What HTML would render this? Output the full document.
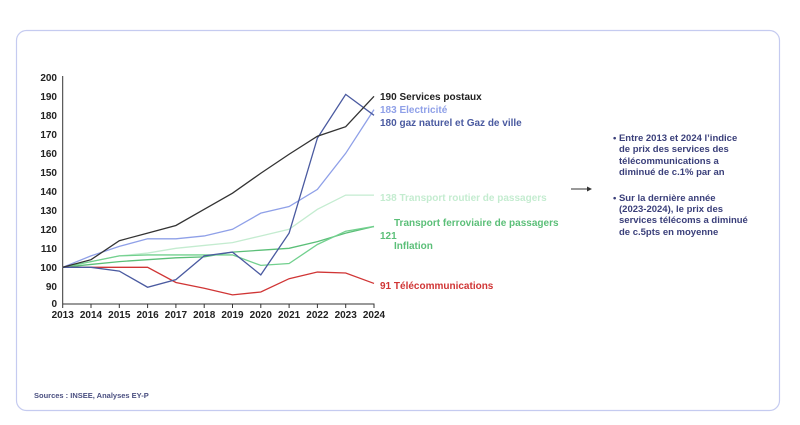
<!DOCTYPE html>
<html><head><meta charset="utf-8"><style>
body{margin:0;background:#fff;width:800px;height:420px;overflow:hidden;font-family:"Liberation Sans",sans-serif}
</style></head><body>
<svg width="800" height="420" xmlns="http://www.w3.org/2000/svg" font-family="Liberation Sans, sans-serif">
<rect x="16.5" y="30.5" width="763" height="380" rx="10" fill="#fff" stroke="#c5cbf0" stroke-width="1.2"/>
<g font-size="10" font-weight="bold" fill="#222" text-anchor="end">
<text x="57" y="81">200</text><text x="57" y="100">190</text><text x="57" y="119">180</text><text x="57" y="138">170</text><text x="57" y="157">160</text><text x="57" y="176">150</text><text x="57" y="195">140</text><text x="57" y="214">130</text><text x="57" y="233">120</text><text x="57" y="252">110</text><text x="57" y="271">100</text><text x="57" y="290">90</text><text x="57" y="307">0</text>
</g>
<line x1="62.7" y1="76" x2="62.7" y2="304" stroke="#333" stroke-width="1"/>
<line x1="62.7" y1="304" x2="374.5" y2="304" stroke="#333" stroke-width="1"/>
<g stroke="#333" stroke-width="1">
<line x1="62.7" y1="304" x2="62.7" y2="308"/><line x1="91" y1="304" x2="91" y2="308"/><line x1="119.3" y1="304" x2="119.3" y2="308"/><line x1="147.6" y1="304" x2="147.6" y2="308"/><line x1="175.9" y1="304" x2="175.9" y2="308"/><line x1="204.2" y1="304" x2="204.2" y2="308"/><line x1="232.5" y1="304" x2="232.5" y2="308"/><line x1="260.8" y1="304" x2="260.8" y2="308"/><line x1="289.1" y1="304" x2="289.1" y2="308"/><line x1="317.4" y1="304" x2="317.4" y2="308"/><line x1="345.7" y1="304" x2="345.7" y2="308"/><line x1="374" y1="304" x2="374" y2="308"/>
</g>
<g font-size="10" font-weight="bold" fill="#222" text-anchor="middle">
<text x="62.7" y="318">2013</text><text x="91" y="318">2014</text><text x="119.3" y="318">2015</text><text x="147.6" y="318">2016</text><text x="175.9" y="318">2017</text><text x="204.2" y="318">2018</text><text x="232.5" y="318">2019</text><text x="260.8" y="318">2020</text><text x="289.1" y="318">2021</text><text x="317.4" y="318">2022</text><text x="345.7" y="318">2023</text><text x="374" y="318">2024</text>
</g>
<g transform="translate(62.7,267.3) scale(28.3,-1.9)" fill="none" stroke-width="1.3">
<polyline vector-effect="non-scaling-stroke" stroke="#c4ecd0" points="0,0 1,3 2,6 3,7.5 4,10 5,11.5 6,13 7,16.5 8,20 9,30.5 10,38 11,38"/>
<polyline vector-effect="non-scaling-stroke" stroke="#5bbf78" points="0,0 1,1.5 2,3 3,4 4,5 5,5.5 6,8 7,9 8,10 9,13.5 10,18 11,21.5"/>
<polyline vector-effect="non-scaling-stroke" stroke="#72d08e" points="0,0 1,3 2,6 3,6.5 4,6.5 5,6.5 6,6.5 7,1 8,2 9,12 10,19 11,21.5"/>
<polyline vector-effect="non-scaling-stroke" stroke="#8fa0e8" points="0,0 1,6 2,11 3,15 4,15 5,16.5 6,20 7,28.5 8,32 9,41 10,60 11,83"/>
<polyline vector-effect="non-scaling-stroke" stroke="#d03535" points="0,0 1,0 2,0 3,0 4,-8 5,-11 6,-14.5 7,-13 8,-6 9,-2.5 10,-3 11,-8.5"/>
<polyline vector-effect="non-scaling-stroke" stroke="#4a5aa0" points="0,0 1,0 2,-2 3,-10.5 4,-6.5 5,6 6,8 7,-4 8,18 9,68 10,91 11,80"/>
<polyline vector-effect="non-scaling-stroke" stroke="#333" points="0,0 1,4 2,14 3,18 4,22 5,30.5 6,39 7,49.5 8,59.5 9,69 10,74 11,90"/>
</g>
<g font-size="10" font-weight="bold">
<text x="380" y="100" fill="#222">190  Services postaux</text>
<text x="380" y="113" fill="#8fa0e8">183  Electricité</text>
<text x="380" y="126" fill="#4a5aa0">180  gaz naturel et Gaz de ville</text>
<text x="380" y="201" fill="#c4ecd0">138 Transport routier de passagers</text>
<text x="394" y="226" fill="#5bbf78">Transport ferroviaire de passagers</text>
<text x="380" y="239" fill="#5bbf78">121</text>
<text x="394" y="249" fill="#5bbf78">Inflation</text>
<text x="380" y="289" fill="#d03535">91 Télécommunications</text>
</g>
<line x1="571" y1="189" x2="590" y2="189" stroke="#333" stroke-width="1"/>
<polygon points="592,189 587,186.5 587,191.5" fill="#333"/>
<g font-size="9.5" font-weight="bold" fill="#3a3f7a">
<text x="613" y="141">• Entre 2013 et 2024 l’indice</text>
<text x="619" y="152">de prix des services des</text>
<text x="619" y="164">télécommunications a</text>
<text x="619" y="175">diminué de c.1% par an</text>
<text x="613" y="201">• Sur la dernière année</text>
<text x="619" y="212">(2023-2024), le prix des</text>
<text x="619" y="223">services télécoms a diminué</text>
<text x="619" y="235">de c.5pts en moyenne</text>
</g>
<text x="34" y="398" font-size="7.5" font-weight="bold" fill="#4a4f80">Sources : INSEE, Analyses EY-P</text>
</svg>
</body></html>
